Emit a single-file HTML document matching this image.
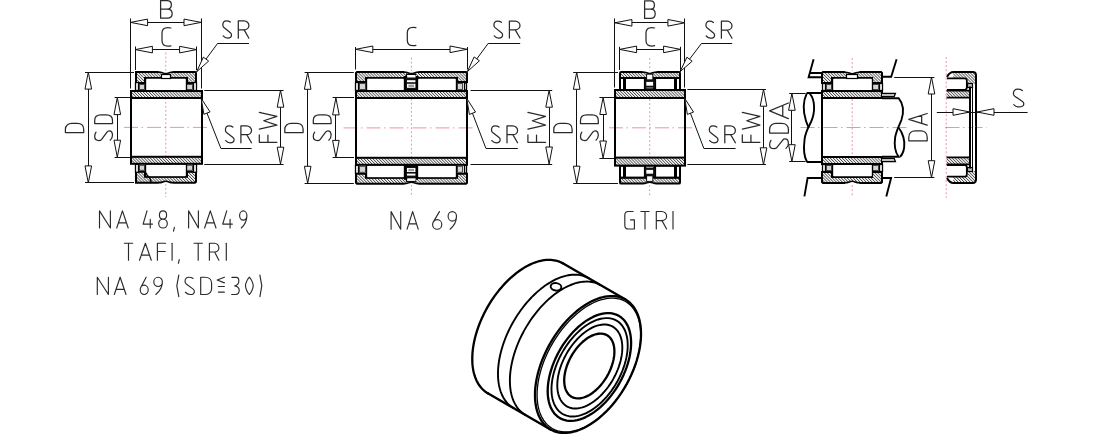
<!DOCTYPE html>
<html><head><meta charset="utf-8"><title>bearing</title>
<style>html,body{margin:0;padding:0;background:#fff;font-family:"Liberation Sans",sans-serif;}svg{display:block}</style>
</head><body>
<svg width="1094" height="434" viewBox="0 0 1094 434">
<defs>
<pattern id="h" width="2.1" height="2.1" patternUnits="userSpaceOnUse" patternTransform="rotate(-45)">
<rect width="2.1" height="2.1" fill="#fff"/><rect width="0.85" height="2.1" fill="#4a4a4a"/>
</pattern>
<pattern id="h2" width="2.1" height="2.1" patternUnits="userSpaceOnUse" patternTransform="rotate(45)">
<rect width="2.1" height="2.1" fill="#fff"/><rect width="0.85" height="2.1" fill="#4a4a4a"/>
</pattern>
</defs>
<rect width="1094" height="434" fill="#fff"/>
<line x1="165.80" y1="52.50" x2="165.80" y2="197.00" stroke="#e23a50" stroke-width="0.9" stroke-opacity="0.6" stroke-dasharray="2 2.1"/>
<line x1="124.00" y1="127.40" x2="208.50" y2="127.40" stroke="#e23a50" stroke-width="0.9" stroke-opacity="0.6" stroke-dasharray="14 3.5 1.5 4"/>
<path d="M136.00,72.00 L195.00,72.00 L196.00,73.00 L196.00,83.00 L187.00,83.00 L187.00,78.00 L145.00,78.00 L145.00,83.00 L136.00,83.00 L136.00,73.00 Z" stroke="#000" stroke-width="2" fill="url(#h)" stroke-linejoin="miter"/>
<rect x="135.50" y="82.50" width="3.00" height="8.00" rx="0" stroke="#000" stroke-width="1.3" fill="#fff"/>
<rect x="193.50" y="82.50" width="3.00" height="8.00" rx="0" stroke="#000" stroke-width="1.3" fill="#fff"/>
<rect x="139.50" y="84.50" width="5.00" height="5.00" rx="0" stroke="#333" stroke-width="0.9" fill="#d4d4d4"/>
<rect x="186.50" y="84.50" width="6.00" height="5.00" rx="0" stroke="#333" stroke-width="0.9" fill="#d4d4d4"/>
<rect x="145.5" y="78.0" width="41.0" height="13.0" rx="1.4" fill="#fff" stroke="#000" stroke-width="1.35"/>
<path d="M158.80,70.80 L172.80,70.80 L172.80,72.00 C168.80,72.00 168.80,73.50 165.80,73.50 C162.80,73.50 162.80,72.00 158.80,72.00 Z" stroke="none" stroke-width="0" fill="#fff" />
<path d="M158.60,72.00 C162.80,72.00 162.80,73.50 165.80,73.50 C168.80,73.50 168.80,72.00 173.00,72.00" stroke="#000" stroke-width="1.5" fill="none" />
<rect x="161.50" y="74.50" width="9.00" height="4.00" rx="0" stroke="#000" stroke-width="1.2" fill="#fff"/>
<rect x="131.00" y="91.00" width="71.00" height="7.00" rx="0" stroke="#000" stroke-width="2" fill="url(#h)"/>
<g transform="translate(0,254.80) scale(1,-1)">
<path d="M136.00,72.00 L195.00,72.00 L196.00,73.00 L196.00,83.00 L187.00,83.00 L187.00,78.00 L145.00,78.00 L145.00,83.00 L136.00,83.00 L136.00,73.00 Z" stroke="#000" stroke-width="2" fill="url(#h2)" stroke-linejoin="miter"/>
<rect x="135.50" y="82.50" width="3.00" height="8.00" rx="0" stroke="#000" stroke-width="1.3" fill="#fff"/>
<rect x="193.50" y="82.50" width="3.00" height="8.00" rx="0" stroke="#000" stroke-width="1.3" fill="#fff"/>
<rect x="139.50" y="84.50" width="5.00" height="5.00" rx="0" stroke="#333" stroke-width="0.9" fill="#d4d4d4"/>
<rect x="186.50" y="84.50" width="6.00" height="5.00" rx="0" stroke="#333" stroke-width="0.9" fill="#d4d4d4"/>
<rect x="145.5" y="78.0" width="41.0" height="13.0" rx="1.4" fill="#fff" stroke="#000" stroke-width="1.35"/>
<path d="M158.80,70.80 L172.80,70.80 L172.80,72.00 C168.80,72.00 168.80,73.50 165.80,73.50 C162.80,73.50 162.80,72.00 158.80,72.00 Z" stroke="none" stroke-width="0" fill="#fff" />
<path d="M158.60,72.00 C162.80,72.00 162.80,73.50 165.80,73.50 C168.80,73.50 168.80,72.00 173.00,72.00" stroke="#000" stroke-width="1.5" fill="none" />
<rect x="131.00" y="91.00" width="71.00" height="7.00" rx="0" stroke="#000" stroke-width="2" fill="url(#h2)"/>
</g>
<path d="M146.2,172.8 C146.4,175.6 148.6,176.4 149.6,177.8 C150.6,179.2 150.6,180.4 151.2,182.0" stroke="#000" stroke-width="1.4" fill="none" />
<line x1="131.00" y1="97.70" x2="131.00" y2="157.10" stroke="#000" stroke-width="2" />
<line x1="202.00" y1="97.70" x2="202.00" y2="157.10" stroke="#000" stroke-width="2" />
<line x1="130.50" y1="18.50" x2="130.50" y2="88.50" stroke="#111" stroke-width="1" />
<line x1="201.50" y1="18.50" x2="201.50" y2="88.50" stroke="#111" stroke-width="1" />
<line x1="147.60" y1="22.50" x2="184.00" y2="22.50" stroke="#111" stroke-width="1" />
<path d="M130.60,22.40 L147.60,19.10 L147.60,25.70 Z" stroke="#111" stroke-width="1" fill="#fff" stroke-linejoin="miter"/>
<path d="M201.00,22.40 L184.00,25.70 L184.00,19.10 Z" stroke="#111" stroke-width="1" fill="#fff" stroke-linejoin="miter"/>
<line x1="135.50" y1="46.50" x2="135.50" y2="70.00" stroke="#111" stroke-width="1" />
<line x1="196.50" y1="46.50" x2="196.50" y2="70.00" stroke="#111" stroke-width="1" />
<line x1="152.40" y1="49.50" x2="179.60" y2="49.50" stroke="#111" stroke-width="1" />
<path d="M135.40,49.60 L152.40,46.30 L152.40,52.90 Z" stroke="#111" stroke-width="1" fill="#fff" stroke-linejoin="miter"/>
<path d="M196.60,49.60 L179.60,52.90 L179.60,46.30 Z" stroke="#111" stroke-width="1" fill="#fff" stroke-linejoin="miter"/>
<path transform="translate(160.60,0.60) rotate(0) scale(2.0714,1.7600)" d="M0,0 V10 H3.2 C4.7,10 5.6,8.9 5.6,7.4 C5.6,5.9 4.7,4.8 3.2,4.8 H0 M3.2,4.8 C4.5,4.8 5.2,3.8 5.2,2.4 C5.2,1 4.5,0 3.2,0 H0" fill="none" stroke="#2a2a2a" stroke-width="1.25" vector-effect="non-scaling-stroke" stroke-linecap="round" stroke-linejoin="round"/>
<path transform="translate(162.00,27.60) rotate(0) scale(1.9348,1.8600)" d="M4.6,0.2 C4.2,0.05 3.6,0 3,0 C1,0 0,1.2 0,3 V7 C0,8.8 1,10 3,10 C3.6,10 4.2,9.95 4.6,9.8" fill="none" stroke="#2a2a2a" stroke-width="1.25" vector-effect="non-scaling-stroke" stroke-linecap="round" stroke-linejoin="round"/>
<line x1="217.80" y1="43.50" x2="249.00" y2="43.50" stroke="#111" stroke-width="1" />
<line x1="217.80" y1="43.20" x2="196.60" y2="71.80" stroke="#111" stroke-width="1" />
<path d="M196.60,71.80 L203.36,57.14 L208.66,61.07 Z" stroke="#111" stroke-width="1" fill="#fff" stroke-linejoin="miter"/>
<path transform="translate(222.50,20.80) rotate(0) scale(1.6071,1.7400)" d="M4.85,0.75 C4.2,0.25 3.3,0 2.4,0 C1,0 0.2,1 0.2,2.4 C0.2,3 0.4,3.5 0.9,3.9 L4.9,6.9 C5.4,7.3 5.6,7.7 5.6,8.2 C5.6,9.3 4.5,10 3.1,10 C2,10 1.1,9.5 0.4,8.7" fill="none" stroke="#2a2a2a" stroke-width="1.25" vector-effect="non-scaling-stroke" stroke-linecap="round" stroke-linejoin="round"/>
<path transform="translate(238.30,20.80) rotate(0) scale(1.7667,1.7400)" d="M0,10 V0 H3.2 C4.8,0 6,1.3 6,2.7 C6,4.1 4.8,5.2 3.2,5.2 H0 M3.3,5.2 L6,10" fill="none" stroke="#2a2a2a" stroke-width="1.25" vector-effect="non-scaling-stroke" stroke-linecap="round" stroke-linejoin="round"/>
<line x1="220.80" y1="148.50" x2="251.60" y2="148.50" stroke="#111" stroke-width="1" />
<line x1="220.80" y1="148.30" x2="201.20" y2="98.40" stroke="#111" stroke-width="1" />
<path d="M201.20,98.40 L210.05,111.90 L203.90,114.31 Z" stroke="#111" stroke-width="1" fill="#fff" stroke-linejoin="miter"/>
<path transform="translate(225.10,125.80) rotate(0) scale(1.6071,1.7000)" d="M4.85,0.75 C4.2,0.25 3.3,0 2.4,0 C1,0 0.2,1 0.2,2.4 C0.2,3 0.4,3.5 0.9,3.9 L4.9,6.9 C5.4,7.3 5.6,7.7 5.6,8.2 C5.6,9.3 4.5,10 3.1,10 C2,10 1.1,9.5 0.4,8.7" fill="none" stroke="#2a2a2a" stroke-width="1.25" vector-effect="non-scaling-stroke" stroke-linecap="round" stroke-linejoin="round"/>
<path transform="translate(240.90,125.80) rotate(0) scale(1.7667,1.7000)" d="M0,10 V0 H3.2 C4.8,0 6,1.3 6,2.7 C6,4.1 4.8,5.2 3.2,5.2 H0 M3.3,5.2 L6,10" fill="none" stroke="#2a2a2a" stroke-width="1.25" vector-effect="non-scaling-stroke" stroke-linecap="round" stroke-linejoin="round"/>
<line x1="85.00" y1="72.50" x2="134.00" y2="72.50" stroke="#111" stroke-width="1" />
<line x1="85.00" y1="182.50" x2="134.00" y2="182.50" stroke="#111" stroke-width="1" />
<line x1="88.50" y1="89.10" x2="88.50" y2="165.90" stroke="#111" stroke-width="1" />
<path d="M88.30,72.10 L91.60,89.10 L85.00,89.10 Z" stroke="#111" stroke-width="1" fill="#fff" stroke-linejoin="miter"/>
<path d="M88.30,182.90 L85.00,165.90 L91.60,165.90 Z" stroke="#111" stroke-width="1" fill="#fff" stroke-linejoin="miter"/>
<path transform="translate(65.40,132.60) rotate(-90) scale(1.6429,1.8300)" d="M0,0 V10 H2 C4.3,10 5.6,8.5 5.6,6.5 V3.5 C5.6,1.5 4.3,0 2,0 Z" fill="none" stroke="#2a2a2a" stroke-width="1.25" vector-effect="non-scaling-stroke" stroke-linecap="round" stroke-linejoin="round"/>
<line x1="114.60" y1="97.50" x2="130.00" y2="97.50" stroke="#111" stroke-width="1" />
<line x1="114.60" y1="157.50" x2="130.00" y2="157.50" stroke="#111" stroke-width="1" />
<line x1="117.50" y1="114.60" x2="117.50" y2="140.20" stroke="#111" stroke-width="1" />
<path d="M117.30,97.60 L120.60,114.60 L114.00,114.60 Z" stroke="#111" stroke-width="1" fill="#fff" stroke-linejoin="miter"/>
<path d="M117.30,157.20 L114.00,140.20 L120.60,140.20 Z" stroke="#111" stroke-width="1" fill="#fff" stroke-linejoin="miter"/>
<path transform="translate(94.70,140.90) rotate(-90) scale(1.8036,1.7800)" d="M4.85,0.75 C4.2,0.25 3.3,0 2.4,0 C1,0 0.2,1 0.2,2.4 C0.2,3 0.4,3.5 0.9,3.9 L4.9,6.9 C5.4,7.3 5.6,7.7 5.6,8.2 C5.6,9.3 4.5,10 3.1,10 C2,10 1.1,9.5 0.4,8.7" fill="none" stroke="#2a2a2a" stroke-width="1.25" vector-effect="non-scaling-stroke" stroke-linecap="round" stroke-linejoin="round"/>
<path transform="translate(94.70,123.60) rotate(-90) scale(1.5714,1.7800)" d="M0,0 V10 H2 C4.3,10 5.6,8.5 5.6,6.5 V3.5 C5.6,1.5 4.3,0 2,0 Z" fill="none" stroke="#2a2a2a" stroke-width="1.25" vector-effect="non-scaling-stroke" stroke-linecap="round" stroke-linejoin="round"/>
<line x1="204.30" y1="90.50" x2="283.60" y2="90.50" stroke="#111" stroke-width="1" />
<line x1="204.30" y1="164.50" x2="283.60" y2="164.50" stroke="#111" stroke-width="1" />
<line x1="280.50" y1="107.20" x2="280.50" y2="147.20" stroke="#111" stroke-width="1" />
<path d="M280.50,90.20 L283.80,107.20 L277.20,107.20 Z" stroke="#111" stroke-width="1" fill="#fff" stroke-linejoin="miter"/>
<path d="M280.50,164.20 L277.20,147.20 L283.80,147.20 Z" stroke="#111" stroke-width="1" fill="#fff" stroke-linejoin="miter"/>
<path transform="translate(259.30,142.30) rotate(-90) scale(1.5000,1.7600)" d="M0,10 V0 H5 M0,4.9 H4.8" fill="none" stroke="#2a2a2a" stroke-width="1.25" vector-effect="non-scaling-stroke" stroke-linecap="round" stroke-linejoin="round"/>
<path transform="translate(259.30,129.10) rotate(-90) scale(1.6700,1.7600)" d="M0,0 L2.4,10 L5,2.5 L7.6,10 L10,0" fill="none" stroke="#2a2a2a" stroke-width="1.25" vector-effect="non-scaling-stroke" stroke-linecap="round" stroke-linejoin="round"/>
<line x1="411.40" y1="57.50" x2="411.40" y2="197.00" stroke="#e23a50" stroke-width="0.9" stroke-opacity="0.6" stroke-dasharray="2 2.1"/>
<line x1="343.50" y1="127.90" x2="473.00" y2="127.90" stroke="#e23a50" stroke-width="0.9" stroke-opacity="0.6" stroke-dasharray="14 3.5 1.5 4"/>
<path d="M357.00,72.00 L466.00,72.00 L467.00,73.00 L467.00,82.00 L457.00,82.00 L457.00,78.00 L366.00,78.00 L366.00,82.00 L356.00,82.00 L356.00,73.00 Z" stroke="#000" stroke-width="2" fill="url(#h)" stroke-linejoin="miter"/>
<rect x="355.50" y="82.50" width="3.00" height="8.00" rx="0" stroke="#000" stroke-width="1.3" fill="#fff"/>
<rect x="464.50" y="82.50" width="2.00" height="8.00" rx="0" stroke="#000" stroke-width="1.3" fill="#fff"/>
<rect x="359.50" y="83.50" width="6.00" height="6.00" rx="0" stroke="#333" stroke-width="0.9" fill="#d4d4d4"/>
<rect x="457.50" y="83.50" width="5.00" height="6.00" rx="0" stroke="#333" stroke-width="0.9" fill="#d4d4d4"/>
<rect x="366.5" y="78.0" width="38.0" height="13.0" rx="1.4" fill="#fff" stroke="#000" stroke-width="1.35"/>
<rect x="417.5" y="78.0" width="39.0" height="13.0" rx="1.4" fill="#fff" stroke="#000" stroke-width="1.35"/>
<path d="M404.40,70.90 L418.40,70.90 L418.40,72.10 C414.40,72.10 414.40,73.60 411.40,73.60 C408.40,73.60 408.40,72.10 404.40,72.10 Z" stroke="none" stroke-width="0" fill="#fff" />
<path d="M404.20,72.10 C408.40,72.10 408.40,73.60 411.40,73.60 C414.40,73.60 414.40,72.10 418.60,72.10" stroke="#000" stroke-width="1.5" fill="none" />
<rect x="406.50" y="74.50" width="9.00" height="4.00" rx="0" stroke="#000" stroke-width="1.2" fill="#fff"/>
<rect x="356.00" y="91.00" width="111.00" height="7.00" rx="0" stroke="#000" stroke-width="2" fill="url(#h)"/>
<rect x="405.00" y="77.00" width="12.00" height="13.00" rx="0" stroke="#000" stroke-width="2" fill="#111"/>
<rect x="407.00" y="80.20" width="8.40" height="2.00" rx="0" stroke="none" stroke-width="0" fill="#fff"/>
<rect x="407.00" y="83.80" width="8.40" height="4.00" rx="0" stroke="none" stroke-width="0" fill="#fff"/>
<rect x="408.40" y="84.60" width="5.60" height="2.40" rx="0" stroke="none" stroke-width="0" fill="#999"/>
<rect x="407.20" y="75.10" width="8.40" height="2.40" rx="0" stroke="none" stroke-width="0" fill="#fff"/>
<g transform="translate(0,255.80) scale(1,-1)">
<path d="M357.00,72.00 L466.00,72.00 L467.00,73.00 L467.00,82.00 L457.00,82.00 L457.00,78.00 L366.00,78.00 L366.00,82.00 L356.00,82.00 L356.00,73.00 Z" stroke="#000" stroke-width="2" fill="url(#h2)" stroke-linejoin="miter"/>
<rect x="355.50" y="82.50" width="3.00" height="8.00" rx="0" stroke="#000" stroke-width="1.3" fill="#fff"/>
<rect x="464.50" y="82.50" width="2.00" height="8.00" rx="0" stroke="#000" stroke-width="1.3" fill="#fff"/>
<rect x="359.50" y="83.50" width="6.00" height="6.00" rx="0" stroke="#333" stroke-width="0.9" fill="#d4d4d4"/>
<rect x="457.50" y="83.50" width="5.00" height="6.00" rx="0" stroke="#333" stroke-width="0.9" fill="#d4d4d4"/>
<rect x="366.5" y="78.0" width="38.0" height="13.0" rx="1.4" fill="#fff" stroke="#000" stroke-width="1.35"/>
<rect x="417.5" y="78.0" width="39.0" height="13.0" rx="1.4" fill="#fff" stroke="#000" stroke-width="1.35"/>
<path d="M404.40,70.90 L418.40,70.90 L418.40,72.10 C414.40,72.10 414.40,73.60 411.40,73.60 C408.40,73.60 408.40,72.10 404.40,72.10 Z" stroke="none" stroke-width="0" fill="#fff" />
<path d="M404.20,72.10 C408.40,72.10 408.40,73.60 411.40,73.60 C414.40,73.60 414.40,72.10 418.60,72.10" stroke="#000" stroke-width="1.5" fill="none" />
<rect x="406.50" y="74.50" width="9.00" height="4.00" rx="0" stroke="#000" stroke-width="1.2" fill="#fff"/>
<rect x="356.00" y="91.00" width="111.00" height="7.00" rx="0" stroke="#000" stroke-width="2" fill="url(#h2)"/>
<rect x="405.00" y="77.00" width="12.00" height="13.00" rx="0" stroke="#000" stroke-width="2" fill="#111"/>
<rect x="407.00" y="80.20" width="8.40" height="2.00" rx="0" stroke="none" stroke-width="0" fill="#fff"/>
<rect x="407.00" y="83.80" width="8.40" height="4.00" rx="0" stroke="none" stroke-width="0" fill="#fff"/>
<rect x="408.40" y="84.60" width="5.60" height="2.40" rx="0" stroke="none" stroke-width="0" fill="#999"/>
<rect x="407.20" y="75.10" width="8.40" height="2.40" rx="0" stroke="none" stroke-width="0" fill="#fff"/>
</g>
<line x1="356.00" y1="98.00" x2="356.00" y2="157.80" stroke="#000" stroke-width="2" />
<line x1="467.00" y1="98.00" x2="467.00" y2="157.80" stroke="#000" stroke-width="2" />
<line x1="355.50" y1="47.00" x2="355.50" y2="69.50" stroke="#111" stroke-width="1" />
<line x1="467.50" y1="47.00" x2="467.50" y2="69.50" stroke="#111" stroke-width="1" />
<line x1="372.80" y1="49.50" x2="450.00" y2="49.50" stroke="#111" stroke-width="1" />
<path d="M355.80,49.30 L372.80,46.00 L372.80,52.60 Z" stroke="#111" stroke-width="1" fill="#fff" stroke-linejoin="miter"/>
<path d="M467.00,49.30 L450.00,52.60 L450.00,46.00 Z" stroke="#111" stroke-width="1" fill="#fff" stroke-linejoin="miter"/>
<path transform="translate(407.30,27.30) rotate(0) scale(1.8696,1.8400)" d="M4.6,0.2 C4.2,0.05 3.6,0 3,0 C1,0 0,1.2 0,3 V7 C0,8.8 1,10 3,10 C3.6,10 4.2,9.95 4.6,9.8" fill="none" stroke="#2a2a2a" stroke-width="1.25" vector-effect="non-scaling-stroke" stroke-linecap="round" stroke-linejoin="round"/>
<line x1="488.20" y1="43.50" x2="520.20" y2="43.50" stroke="#111" stroke-width="1" />
<line x1="488.20" y1="43.40" x2="467.40" y2="71.60" stroke="#111" stroke-width="1" />
<path d="M467.40,71.60 L474.12,56.93 L479.43,60.84 Z" stroke="#111" stroke-width="1" fill="#fff" stroke-linejoin="miter"/>
<path transform="translate(493.60,21.00) rotate(0) scale(1.6071,1.7000)" d="M4.85,0.75 C4.2,0.25 3.3,0 2.4,0 C1,0 0.2,1 0.2,2.4 C0.2,3 0.4,3.5 0.9,3.9 L4.9,6.9 C5.4,7.3 5.6,7.7 5.6,8.2 C5.6,9.3 4.5,10 3.1,10 C2,10 1.1,9.5 0.4,8.7" fill="none" stroke="#2a2a2a" stroke-width="1.25" vector-effect="non-scaling-stroke" stroke-linecap="round" stroke-linejoin="round"/>
<path transform="translate(509.40,21.00) rotate(0) scale(1.7667,1.7000)" d="M0,10 V0 H3.2 C4.8,0 6,1.3 6,2.7 C6,4.1 4.8,5.2 3.2,5.2 H0 M3.3,5.2 L6,10" fill="none" stroke="#2a2a2a" stroke-width="1.25" vector-effect="non-scaling-stroke" stroke-linecap="round" stroke-linejoin="round"/>
<line x1="485.90" y1="148.50" x2="517.80" y2="148.50" stroke="#111" stroke-width="1" />
<line x1="485.90" y1="148.30" x2="466.80" y2="98.50" stroke="#111" stroke-width="1" />
<path d="M466.80,98.50 L475.54,112.07 L469.38,114.43 Z" stroke="#111" stroke-width="1" fill="#fff" stroke-linejoin="miter"/>
<path transform="translate(491.20,125.80) rotate(0) scale(1.6071,1.7000)" d="M4.85,0.75 C4.2,0.25 3.3,0 2.4,0 C1,0 0.2,1 0.2,2.4 C0.2,3 0.4,3.5 0.9,3.9 L4.9,6.9 C5.4,7.3 5.6,7.7 5.6,8.2 C5.6,9.3 4.5,10 3.1,10 C2,10 1.1,9.5 0.4,8.7" fill="none" stroke="#2a2a2a" stroke-width="1.25" vector-effect="non-scaling-stroke" stroke-linecap="round" stroke-linejoin="round"/>
<path transform="translate(507.00,125.80) rotate(0) scale(1.7667,1.7000)" d="M0,10 V0 H3.2 C4.8,0 6,1.3 6,2.7 C6,4.1 4.8,5.2 3.2,5.2 H0 M3.3,5.2 L6,10" fill="none" stroke="#2a2a2a" stroke-width="1.25" vector-effect="non-scaling-stroke" stroke-linecap="round" stroke-linejoin="round"/>
<line x1="304.60" y1="72.50" x2="353.80" y2="72.50" stroke="#111" stroke-width="1" />
<line x1="304.60" y1="183.50" x2="353.80" y2="183.50" stroke="#111" stroke-width="1" />
<line x1="307.50" y1="89.30" x2="307.50" y2="166.30" stroke="#111" stroke-width="1" />
<path d="M307.70,72.30 L311.00,89.30 L304.40,89.30 Z" stroke="#111" stroke-width="1" fill="#fff" stroke-linejoin="miter"/>
<path d="M307.70,183.30 L304.40,166.30 L311.00,166.30 Z" stroke="#111" stroke-width="1" fill="#fff" stroke-linejoin="miter"/>
<path transform="translate(284.80,132.60) rotate(-90) scale(1.6429,1.8300)" d="M0,0 V10 H2 C4.3,10 5.6,8.5 5.6,6.5 V3.5 C5.6,1.5 4.3,0 2,0 Z" fill="none" stroke="#2a2a2a" stroke-width="1.25" vector-effect="non-scaling-stroke" stroke-linecap="round" stroke-linejoin="round"/>
<line x1="332.60" y1="97.50" x2="354.00" y2="97.50" stroke="#111" stroke-width="1" />
<line x1="332.60" y1="157.50" x2="354.00" y2="157.50" stroke="#111" stroke-width="1" />
<line x1="335.50" y1="114.90" x2="335.50" y2="140.40" stroke="#111" stroke-width="1" />
<path d="M335.90,97.90 L339.20,114.90 L332.60,114.90 Z" stroke="#111" stroke-width="1" fill="#fff" stroke-linejoin="miter"/>
<path d="M335.90,157.40 L332.60,140.40 L339.20,140.40 Z" stroke="#111" stroke-width="1" fill="#fff" stroke-linejoin="miter"/>
<path transform="translate(313.30,140.90) rotate(-90) scale(1.8036,1.7800)" d="M4.85,0.75 C4.2,0.25 3.3,0 2.4,0 C1,0 0.2,1 0.2,2.4 C0.2,3 0.4,3.5 0.9,3.9 L4.9,6.9 C5.4,7.3 5.6,7.7 5.6,8.2 C5.6,9.3 4.5,10 3.1,10 C2,10 1.1,9.5 0.4,8.7" fill="none" stroke="#2a2a2a" stroke-width="1.25" vector-effect="non-scaling-stroke" stroke-linecap="round" stroke-linejoin="round"/>
<path transform="translate(313.30,123.60) rotate(-90) scale(1.5714,1.7800)" d="M0,0 V10 H2 C4.3,10 5.6,8.5 5.6,6.5 V3.5 C5.6,1.5 4.3,0 2,0 Z" fill="none" stroke="#2a2a2a" stroke-width="1.25" vector-effect="non-scaling-stroke" stroke-linecap="round" stroke-linejoin="round"/>
<line x1="470.60" y1="90.50" x2="552.20" y2="90.50" stroke="#111" stroke-width="1" />
<line x1="470.60" y1="164.50" x2="552.20" y2="164.50" stroke="#111" stroke-width="1" />
<line x1="549.50" y1="107.20" x2="549.50" y2="147.00" stroke="#111" stroke-width="1" />
<path d="M549.10,90.20 L552.40,107.20 L545.80,107.20 Z" stroke="#111" stroke-width="1" fill="#fff" stroke-linejoin="miter"/>
<path d="M549.10,164.00 L545.80,147.00 L552.40,147.00 Z" stroke="#111" stroke-width="1" fill="#fff" stroke-linejoin="miter"/>
<path transform="translate(527.90,142.30) rotate(-90) scale(1.5000,1.7600)" d="M0,10 V0 H5 M0,4.9 H4.8" fill="none" stroke="#2a2a2a" stroke-width="1.25" vector-effect="non-scaling-stroke" stroke-linecap="round" stroke-linejoin="round"/>
<path transform="translate(527.90,129.10) rotate(-90) scale(1.6700,1.7600)" d="M0,0 L2.4,10 L5,2.5 L7.6,10 L10,0" fill="none" stroke="#2a2a2a" stroke-width="1.25" vector-effect="non-scaling-stroke" stroke-linecap="round" stroke-linejoin="round"/>
<line x1="649.70" y1="58.00" x2="649.70" y2="197.00" stroke="#e23a50" stroke-width="0.9" stroke-opacity="0.6" stroke-dasharray="2 2.1"/>
<line x1="609.00" y1="127.80" x2="692.00" y2="127.80" stroke="#e23a50" stroke-width="0.9" stroke-opacity="0.6" stroke-dasharray="14 3.5 1.5 4"/>
<rect x="620.00" y="72.00" width="60.00" height="6.00" rx="1.2" stroke="#000" stroke-width="2" fill="url(#h)"/>
<rect x="620.00" y="78.00" width="4.00" height="12.00" rx="0" stroke="#000" stroke-width="2" fill="#fff"/>
<rect x="676.00" y="78.00" width="4.00" height="12.00" rx="0" stroke="#000" stroke-width="2" fill="#fff"/>
<rect x="625.00" y="78.00" width="20.00" height="12.00" rx="0" stroke="#000" stroke-width="2" fill="#fff"/>
<rect x="655.00" y="78.00" width="20.00" height="12.00" rx="0" stroke="#000" stroke-width="2" fill="#fff"/>
<rect x="644.50" y="78.50" width="11.00" height="10.00" rx="0" stroke="#000" stroke-width="1.2" fill="#111"/>
<path d="M642.70,70.70 L656.70,70.70 L656.70,71.90 C652.70,71.90 652.70,73.40 649.70,73.40 C646.70,73.40 646.70,71.90 642.70,71.90 Z" stroke="none" stroke-width="0" fill="#fff" />
<path d="M642.50,71.90 C646.70,71.90 646.70,73.40 649.70,73.40 C652.70,73.40 652.70,71.90 656.90,71.90" stroke="#000" stroke-width="1.5" fill="none" />
<rect x="646.10" y="73.70" width="7.20" height="5.30" rx="0" stroke="none" stroke-width="0" fill="#111"/>
<rect x="647.10" y="74.70" width="5.20" height="4.60" rx="0" stroke="none" stroke-width="0" fill="#fff"/>
<rect x="646.30" y="81.90" width="6.80" height="3.80" rx="0" stroke="none" stroke-width="0" fill="#fff"/>
<rect x="646.30" y="87.60" width="6.80" height="0.70" rx="0" stroke="none" stroke-width="0" fill="#ddd"/>
<rect x="615.00" y="90.00" width="70.00" height="8.00" rx="0" stroke="#000" stroke-width="2" fill="url(#h)"/>
<g transform="translate(0,255.60) scale(1,-1)">
<rect x="620.00" y="72.00" width="60.00" height="6.00" rx="1.2" stroke="#000" stroke-width="2" fill="url(#h2)"/>
<rect x="620.00" y="78.00" width="4.00" height="12.00" rx="0" stroke="#000" stroke-width="2" fill="#fff"/>
<rect x="676.00" y="78.00" width="4.00" height="12.00" rx="0" stroke="#000" stroke-width="2" fill="#fff"/>
<rect x="625.00" y="78.00" width="20.00" height="12.00" rx="0" stroke="#000" stroke-width="2" fill="#fff"/>
<rect x="655.00" y="78.00" width="20.00" height="12.00" rx="0" stroke="#000" stroke-width="2" fill="#fff"/>
<rect x="644.50" y="78.50" width="11.00" height="10.00" rx="0" stroke="#000" stroke-width="1.2" fill="#111"/>
<path d="M642.70,70.70 L656.70,70.70 L656.70,71.90 C652.70,71.90 652.70,73.40 649.70,73.40 C646.70,73.40 646.70,71.90 642.70,71.90 Z" stroke="none" stroke-width="0" fill="#fff" />
<path d="M642.50,71.90 C646.70,71.90 646.70,73.40 649.70,73.40 C652.70,73.40 652.70,71.90 656.90,71.90" stroke="#000" stroke-width="1.5" fill="none" />
<rect x="646.10" y="73.70" width="7.20" height="5.30" rx="0" stroke="none" stroke-width="0" fill="#111"/>
<rect x="647.10" y="74.70" width="5.20" height="4.60" rx="0" stroke="none" stroke-width="0" fill="#fff"/>
<rect x="646.30" y="81.90" width="6.80" height="3.80" rx="0" stroke="none" stroke-width="0" fill="#fff"/>
<rect x="646.30" y="87.60" width="6.80" height="0.70" rx="0" stroke="none" stroke-width="0" fill="#ddd"/>
<rect x="615.00" y="90.00" width="70.00" height="8.00" rx="0" stroke="#000" stroke-width="2" fill="url(#h2)"/>
</g>
<line x1="615.00" y1="97.50" x2="615.00" y2="158.10" stroke="#000" stroke-width="2" />
<line x1="685.00" y1="97.50" x2="685.00" y2="158.10" stroke="#000" stroke-width="2" />
<line x1="614.50" y1="18.50" x2="614.50" y2="87.50" stroke="#111" stroke-width="1" />
<line x1="684.50" y1="18.50" x2="684.50" y2="87.50" stroke="#111" stroke-width="1" />
<line x1="631.90" y1="22.50" x2="667.90" y2="22.50" stroke="#111" stroke-width="1" />
<path d="M614.90,22.80 L631.90,19.50 L631.90,26.10 Z" stroke="#111" stroke-width="1" fill="#fff" stroke-linejoin="miter"/>
<path d="M684.90,22.80 L667.90,26.10 L667.90,19.50 Z" stroke="#111" stroke-width="1" fill="#fff" stroke-linejoin="miter"/>
<line x1="619.50" y1="46.80" x2="619.50" y2="70.00" stroke="#111" stroke-width="1" />
<line x1="680.50" y1="46.80" x2="680.50" y2="70.00" stroke="#111" stroke-width="1" />
<line x1="636.60" y1="49.50" x2="663.60" y2="49.50" stroke="#111" stroke-width="1" />
<path d="M619.60,49.40 L636.60,46.10 L636.60,52.70 Z" stroke="#111" stroke-width="1" fill="#fff" stroke-linejoin="miter"/>
<path d="M680.60,49.40 L663.60,52.70 L663.60,46.10 Z" stroke="#111" stroke-width="1" fill="#fff" stroke-linejoin="miter"/>
<path transform="translate(644.60,0.80) rotate(0) scale(1.8929,1.7600)" d="M0,0 V10 H3.2 C4.7,10 5.6,8.9 5.6,7.4 C5.6,5.9 4.7,4.8 3.2,4.8 H0 M3.2,4.8 C4.5,4.8 5.2,3.8 5.2,2.4 C5.2,1 4.5,0 3.2,0 H0" fill="none" stroke="#2a2a2a" stroke-width="1.25" vector-effect="non-scaling-stroke" stroke-linecap="round" stroke-linejoin="round"/>
<path transform="translate(646.00,27.60) rotate(0) scale(1.8696,1.8400)" d="M4.6,0.2 C4.2,0.05 3.6,0 3,0 C1,0 0,1.2 0,3 V7 C0,8.8 1,10 3,10 C3.6,10 4.2,9.95 4.6,9.8" fill="none" stroke="#2a2a2a" stroke-width="1.25" vector-effect="non-scaling-stroke" stroke-linecap="round" stroke-linejoin="round"/>
<line x1="701.60" y1="43.50" x2="732.20" y2="43.50" stroke="#111" stroke-width="1" />
<line x1="701.60" y1="43.30" x2="680.00" y2="71.80" stroke="#111" stroke-width="1" />
<path d="M680.00,71.80 L686.91,57.21 L692.17,61.20 Z" stroke="#111" stroke-width="1" fill="#fff" stroke-linejoin="miter"/>
<path transform="translate(705.60,21.20) rotate(0) scale(1.6071,1.7000)" d="M4.85,0.75 C4.2,0.25 3.3,0 2.4,0 C1,0 0.2,1 0.2,2.4 C0.2,3 0.4,3.5 0.9,3.9 L4.9,6.9 C5.4,7.3 5.6,7.7 5.6,8.2 C5.6,9.3 4.5,10 3.1,10 C2,10 1.1,9.5 0.4,8.7" fill="none" stroke="#2a2a2a" stroke-width="1.25" vector-effect="non-scaling-stroke" stroke-linecap="round" stroke-linejoin="round"/>
<path transform="translate(721.40,21.20) rotate(0) scale(1.7667,1.7000)" d="M0,10 V0 H3.2 C4.8,0 6,1.3 6,2.7 C6,4.1 4.8,5.2 3.2,5.2 H0 M3.3,5.2 L6,10" fill="none" stroke="#2a2a2a" stroke-width="1.25" vector-effect="non-scaling-stroke" stroke-linecap="round" stroke-linejoin="round"/>
<line x1="573.20" y1="72.50" x2="618.00" y2="72.50" stroke="#111" stroke-width="1" />
<line x1="573.20" y1="183.50" x2="618.00" y2="183.50" stroke="#111" stroke-width="1" />
<line x1="576.50" y1="89.30" x2="576.50" y2="166.20" stroke="#111" stroke-width="1" />
<path d="M576.70,72.30 L580.00,89.30 L573.40,89.30 Z" stroke="#111" stroke-width="1" fill="#fff" stroke-linejoin="miter"/>
<path d="M576.70,183.20 L573.40,166.20 L580.00,166.20 Z" stroke="#111" stroke-width="1" fill="#fff" stroke-linejoin="miter"/>
<path transform="translate(553.80,132.60) rotate(-90) scale(1.6429,1.8300)" d="M0,0 V10 H2 C4.3,10 5.6,8.5 5.6,6.5 V3.5 C5.6,1.5 4.3,0 2,0 Z" fill="none" stroke="#2a2a2a" stroke-width="1.25" vector-effect="non-scaling-stroke" stroke-linecap="round" stroke-linejoin="round"/>
<line x1="599.40" y1="97.50" x2="614.00" y2="97.50" stroke="#111" stroke-width="1" />
<line x1="599.40" y1="158.50" x2="614.00" y2="158.50" stroke="#111" stroke-width="1" />
<line x1="603.50" y1="114.50" x2="603.50" y2="141.00" stroke="#111" stroke-width="1" />
<path d="M603.10,97.50 L606.40,114.50 L599.80,114.50 Z" stroke="#111" stroke-width="1" fill="#fff" stroke-linejoin="miter"/>
<path d="M603.10,158.00 L599.80,141.00 L606.40,141.00 Z" stroke="#111" stroke-width="1" fill="#fff" stroke-linejoin="miter"/>
<path transform="translate(580.50,140.90) rotate(-90) scale(1.8036,1.7800)" d="M4.85,0.75 C4.2,0.25 3.3,0 2.4,0 C1,0 0.2,1 0.2,2.4 C0.2,3 0.4,3.5 0.9,3.9 L4.9,6.9 C5.4,7.3 5.6,7.7 5.6,8.2 C5.6,9.3 4.5,10 3.1,10 C2,10 1.1,9.5 0.4,8.7" fill="none" stroke="#2a2a2a" stroke-width="1.25" vector-effect="non-scaling-stroke" stroke-linecap="round" stroke-linejoin="round"/>
<path transform="translate(580.50,123.60) rotate(-90) scale(1.5714,1.7800)" d="M0,0 V10 H2 C4.3,10 5.6,8.5 5.6,6.5 V3.5 C5.6,1.5 4.3,0 2,0 Z" fill="none" stroke="#2a2a2a" stroke-width="1.25" vector-effect="non-scaling-stroke" stroke-linecap="round" stroke-linejoin="round"/>
<line x1="703.80" y1="148.50" x2="735.60" y2="148.50" stroke="#111" stroke-width="1" />
<line x1="703.80" y1="148.30" x2="684.80" y2="98.50" stroke="#111" stroke-width="1" />
<path d="M684.80,98.50 L693.52,112.09 L687.35,114.44 Z" stroke="#111" stroke-width="1" fill="#fff" stroke-linejoin="miter"/>
<path transform="translate(709.00,125.80) rotate(0) scale(1.6071,1.7000)" d="M4.85,0.75 C4.2,0.25 3.3,0 2.4,0 C1,0 0.2,1 0.2,2.4 C0.2,3 0.4,3.5 0.9,3.9 L4.9,6.9 C5.4,7.3 5.6,7.7 5.6,8.2 C5.6,9.3 4.5,10 3.1,10 C2,10 1.1,9.5 0.4,8.7" fill="none" stroke="#2a2a2a" stroke-width="1.25" vector-effect="non-scaling-stroke" stroke-linecap="round" stroke-linejoin="round"/>
<path transform="translate(724.80,125.80) rotate(0) scale(1.7667,1.7000)" d="M0,10 V0 H3.2 C4.8,0 6,1.3 6,2.7 C6,4.1 4.8,5.2 3.2,5.2 H0 M3.3,5.2 L6,10" fill="none" stroke="#2a2a2a" stroke-width="1.25" vector-effect="non-scaling-stroke" stroke-linecap="round" stroke-linejoin="round"/>
<line x1="687.40" y1="89.50" x2="766.00" y2="89.50" stroke="#111" stroke-width="1" />
<line x1="687.40" y1="164.50" x2="766.00" y2="164.50" stroke="#111" stroke-width="1" />
<line x1="763.50" y1="106.20" x2="763.50" y2="147.80" stroke="#111" stroke-width="1" />
<path d="M763.50,89.20 L766.80,106.20 L760.20,106.20 Z" stroke="#111" stroke-width="1" fill="#fff" stroke-linejoin="miter"/>
<path d="M763.50,164.80 L760.20,147.80 L766.80,147.80 Z" stroke="#111" stroke-width="1" fill="#fff" stroke-linejoin="miter"/>
<path transform="translate(742.30,142.30) rotate(-90) scale(1.5000,1.7600)" d="M0,10 V0 H5 M0,4.9 H4.8" fill="none" stroke="#2a2a2a" stroke-width="1.25" vector-effect="non-scaling-stroke" stroke-linecap="round" stroke-linejoin="round"/>
<path transform="translate(742.30,129.10) rotate(-90) scale(1.6700,1.7600)" d="M0,0 L2.4,10 L5,2.5 L7.6,10 L10,0" fill="none" stroke="#2a2a2a" stroke-width="1.25" vector-effect="non-scaling-stroke" stroke-linecap="round" stroke-linejoin="round"/>
<line x1="852.20" y1="58.00" x2="852.20" y2="197.00" stroke="#e23a50" stroke-width="0.9" stroke-opacity="0.6" stroke-dasharray="2 2.1"/>
<line x1="800.50" y1="127.50" x2="907.00" y2="127.50" stroke="#e23a50" stroke-width="0.9" stroke-opacity="0.6" stroke-dasharray="14 3.5 1.5 4"/>
<path d="M823.00,72.00 L881.00,72.00 L882.00,73.00 L882.00,83.00 L872.00,83.00 L872.00,78.00 L832.00,78.00 L832.00,83.00 L822.00,83.00 L822.00,73.00 Z" stroke="#000" stroke-width="2" fill="url(#h)" stroke-linejoin="miter"/>
<rect x="822.50" y="83.50" width="3.00" height="7.00" rx="0" stroke="#000" stroke-width="1.3" fill="#fff"/>
<rect x="879.50" y="83.50" width="3.00" height="7.00" rx="0" stroke="#000" stroke-width="1.3" fill="#fff"/>
<rect x="826.50" y="84.50" width="5.00" height="5.00" rx="0" stroke="#333" stroke-width="0.9" fill="#d4d4d4"/>
<rect x="872.50" y="84.50" width="6.00" height="5.00" rx="0" stroke="#333" stroke-width="0.9" fill="#d4d4d4"/>
<rect x="832.5" y="78.0" width="40.0" height="13.0" rx="1.4" fill="#fff" stroke="#000" stroke-width="1.35"/>
<path d="M845.20,71.00 L859.20,71.00 L859.20,72.20 C855.20,72.20 855.20,73.70 852.20,73.70 C849.20,73.70 849.20,72.20 845.20,72.20 Z" stroke="none" stroke-width="0" fill="#fff" />
<path d="M845.00,72.20 C849.20,72.20 849.20,73.70 852.20,73.70 C855.20,73.70 855.20,72.20 859.40,72.20" stroke="#000" stroke-width="1.5" fill="none" />
<rect x="846.50" y="74.50" width="11.00" height="4.00" rx="0" stroke="#000" stroke-width="1.2" fill="#fff"/>
<rect x="822.00" y="91.00" width="60.00" height="7.00" rx="0" stroke="#000" stroke-width="2" fill="url(#h)"/>
<g transform="translate(0,255.00) scale(1,-1)">
<path d="M823.00,72.00 L881.00,72.00 L882.00,73.00 L882.00,83.00 L872.00,83.00 L872.00,78.00 L832.00,78.00 L832.00,83.00 L822.00,83.00 L822.00,73.00 Z" stroke="#000" stroke-width="2" fill="url(#h2)" stroke-linejoin="miter"/>
<rect x="822.50" y="83.50" width="3.00" height="7.00" rx="0" stroke="#000" stroke-width="1.3" fill="#fff"/>
<rect x="879.50" y="83.50" width="3.00" height="7.00" rx="0" stroke="#000" stroke-width="1.3" fill="#fff"/>
<rect x="826.50" y="84.50" width="5.00" height="5.00" rx="0" stroke="#333" stroke-width="0.9" fill="#d4d4d4"/>
<rect x="872.50" y="84.50" width="6.00" height="5.00" rx="0" stroke="#333" stroke-width="0.9" fill="#d4d4d4"/>
<rect x="832.5" y="78.0" width="40.0" height="13.0" rx="1.4" fill="#fff" stroke="#000" stroke-width="1.35"/>
<path d="M845.20,71.00 L859.20,71.00 L859.20,72.20 C855.20,72.20 855.20,73.70 852.20,73.70 C849.20,73.70 849.20,72.20 845.20,72.20 Z" stroke="none" stroke-width="0" fill="#fff" />
<path d="M845.00,72.20 C849.20,72.20 849.20,73.70 852.20,73.70 C855.20,73.70 855.20,72.20 859.40,72.20" stroke="#000" stroke-width="1.5" fill="none" />
<rect x="822.00" y="91.00" width="60.00" height="7.00" rx="0" stroke="#000" stroke-width="2" fill="url(#h2)"/>
</g>
<line x1="822.00" y1="90.00" x2="822.00" y2="165.00" stroke="#000" stroke-width="2" />
<line x1="806.60" y1="93.00" x2="822.30" y2="93.00" stroke="#000" stroke-width="2" />
<line x1="806.60" y1="162.00" x2="822.30" y2="162.00" stroke="#000" stroke-width="2" />
<path d="M806.8,93.3 C803.0,101 803.2,112 806.0,121 C807.0,124 808.0,126 808.8,127.5" stroke="#000" stroke-width="1.9" fill="none" />
<path d="M809.6,93.3 C815.5,100 815.2,113 811.0,122 C808.0,128 805.5,132 804.6,139 C803.6,147 804.0,157 807.0,161.7" stroke="#000" stroke-width="1.9" fill="none" />
<path d="M882,98.2 L898.6,98.2 C903.5,104 904.0,112 901.4,120 C899.5,125 896.5,130 895.2,137 C894.0,145 895.0,152 898.6,156.8 L882,156.8" stroke="#000" stroke-width="1.9" fill="none" />
<path d="M898.8,128.0 C903.0,133 905.0,141 904.2,147 C903.6,152 902.0,155 900.0,156.8" stroke="#000" stroke-width="1.9" fill="none" />
<path d="M882,93.50 L895.4,93.50 L894.2,96.50 L882,96.50" stroke="#000" stroke-width="1.3" fill="#fff" />
<path d="M882,161.50 L895.4,161.50 L894.2,158.50 L882,158.50" stroke="#000" stroke-width="1.3" fill="#fff" />
<path d="M813.6,59.20 L808.6,77.30 L822.3,77.30 M809.8,73.00 L822.3,73.00" stroke="#000" stroke-width="1.9" fill="none" />
<path d="M896.6,59.20 L891.2,76.80 L882.0,76.80" stroke="#000" stroke-width="1.9" fill="none" />
<path d="M804.4,196.4 L807.6,178.0 L822.3,178.0" stroke="#000" stroke-width="1.9" fill="none" />
<path d="M886.3,196.4 L891.1,178.0 L882.0,178.0" stroke="#000" stroke-width="1.9" fill="none" />
<line x1="789.20" y1="93.50" x2="805.50" y2="93.50" stroke="#111" stroke-width="1" />
<line x1="789.20" y1="161.50" x2="805.50" y2="161.50" stroke="#111" stroke-width="1" />
<line x1="791.50" y1="110.30" x2="791.50" y2="144.70" stroke="#111" stroke-width="1" />
<path d="M791.90,93.30 L795.20,110.30 L788.60,110.30 Z" stroke="#111" stroke-width="1" fill="#fff" stroke-linejoin="miter"/>
<path d="M791.90,161.70 L788.60,144.70 L795.20,144.70 Z" stroke="#111" stroke-width="1" fill="#fff" stroke-linejoin="miter"/>
<path transform="translate(769.60,149.10) rotate(-90) scale(1.8036,1.8800)" d="M4.85,0.75 C4.2,0.25 3.3,0 2.4,0 C1,0 0.2,1 0.2,2.4 C0.2,3 0.4,3.5 0.9,3.9 L4.9,6.9 C5.4,7.3 5.6,7.7 5.6,8.2 C5.6,9.3 4.5,10 3.1,10 C2,10 1.1,9.5 0.4,8.7" fill="none" stroke="#2a2a2a" stroke-width="1.25" vector-effect="non-scaling-stroke" stroke-linecap="round" stroke-linejoin="round"/>
<path transform="translate(769.60,133.00) rotate(-90) scale(1.7321,1.8800)" d="M0,0 V10 H2 C4.3,10 5.6,8.5 5.6,6.5 V3.5 C5.6,1.5 4.3,0 2,0 Z" fill="none" stroke="#2a2a2a" stroke-width="1.25" vector-effect="non-scaling-stroke" stroke-linecap="round" stroke-linejoin="round"/>
<path transform="translate(769.60,118.60) rotate(-90) scale(2.2286,1.8800)" d="M0,10 L3.5,0 L7,10 M1.05,7 H5.95" fill="none" stroke="#2a2a2a" stroke-width="1.25" vector-effect="non-scaling-stroke" stroke-linecap="round" stroke-linejoin="round"/>
<line x1="894.20" y1="77.50" x2="934.40" y2="77.50" stroke="#111" stroke-width="1" />
<line x1="894.20" y1="177.50" x2="934.40" y2="177.50" stroke="#111" stroke-width="1" />
<line x1="931.50" y1="94.00" x2="931.50" y2="160.70" stroke="#111" stroke-width="1" />
<path d="M931.50,77.00 L934.80,94.00 L928.20,94.00 Z" stroke="#111" stroke-width="1" fill="#fff" stroke-linejoin="miter"/>
<path d="M931.50,177.70 L928.20,160.70 L934.80,160.70 Z" stroke="#111" stroke-width="1" fill="#fff" stroke-linejoin="miter"/>
<path transform="translate(908.80,140.80) rotate(-90) scale(1.7857,1.8400)" d="M0,0 V10 H2 C4.3,10 5.6,8.5 5.6,6.5 V3.5 C5.6,1.5 4.3,0 2,0 Z" fill="none" stroke="#2a2a2a" stroke-width="1.25" vector-effect="non-scaling-stroke" stroke-linecap="round" stroke-linejoin="round"/>
<path transform="translate(908.80,125.20) rotate(-90) scale(1.6714,1.8400)" d="M0,10 L3.5,0 L7,10 M1.05,7 H5.95" fill="none" stroke="#2a2a2a" stroke-width="1.25" vector-effect="non-scaling-stroke" stroke-linecap="round" stroke-linejoin="round"/>
<line x1="946.20" y1="57.00" x2="946.20" y2="198.00" stroke="#e23a50" stroke-width="0.9" stroke-opacity="0.6" stroke-dasharray="2 2.1"/>
<line x1="945.50" y1="127.50" x2="986.50" y2="127.50" stroke="#e23a50" stroke-width="0.9" stroke-opacity="0.6" stroke-dasharray="14 3.5 1.5 4"/>
<path d="M947.0,77.0 C948.5,74.0 950.5,72.0 953.5,72.0 L972.8,72.0 Q976.0,72.0 976.0,75.2 L976.0,128.5 L973.2,128.5 L973.2,83.0 L966.8,83.0 L966.8,78.2 L953.2,78.2 L953.2,72.0" stroke="none" stroke-width="0" fill="url(#h)" />
<path d="M947.0,77.0 C948.5,74.0 950.5,72.0 953.5,72.0 L972.8,72.0 Q976.0,72.0 976.0,75.2 L976.0,128.5" stroke="#000" stroke-width="1.9" fill="none" />
<rect x="973.00" y="84.00" width="3.00" height="44.50" rx="0" stroke="none" stroke-width="0" fill="#fff"/>
<line x1="976.00" y1="75.00" x2="976.00" y2="128.50" stroke="#000" stroke-width="2" />
<path d="M947.0,78.4 L964.6,78.4 Q966.8,78.4 966.8,80.6 L966.8,87.6 Q966.8,89.8 964.6,89.8 L947.0,89.8" stroke="#000" stroke-width="1.7" fill="#fff" />
<rect x="967.50" y="83.50" width="5.00" height="4.00" rx="0" stroke="#000" stroke-width="1.2" fill="#bbb"/>
<path d="M946.6,90.6 L969.6,90.6 L969.6,97.6 L946.6,97.6" stroke="none" stroke-width="0" fill="url(#h)" />
<path d="M946.6,90.6 L969.6,90.6 M946.6,97.6 L969.6,97.6" stroke="#000" stroke-width="1.8" fill="none" />
<line x1="970.00" y1="86.50" x2="970.00" y2="128.50" stroke="#000" stroke-width="2" />
<line x1="972.50" y1="86.50" x2="972.50" y2="128.50" stroke="#000" stroke-width="1.0" />
<g transform="translate(0,255.00) scale(1,-1)">
<path d="M947.0,77.0 C948.5,74.0 950.5,72.0 953.5,72.0 L972.8,72.0 Q976.0,72.0 976.0,75.2 L976.0,128.5 L973.2,128.5 L973.2,83.0 L966.8,83.0 L966.8,78.2 L953.2,78.2 L953.2,72.0" stroke="none" stroke-width="0" fill="url(#h2)" />
<path d="M947.0,77.0 C948.5,74.0 950.5,72.0 953.5,72.0 L972.8,72.0 Q976.0,72.0 976.0,75.2 L976.0,128.5" stroke="#000" stroke-width="1.9" fill="none" />
<rect x="973.00" y="84.00" width="3.00" height="44.50" rx="0" stroke="none" stroke-width="0" fill="#fff"/>
<line x1="976.00" y1="75.00" x2="976.00" y2="128.50" stroke="#000" stroke-width="2" />
<path d="M947.0,78.4 L964.6,78.4 Q966.8,78.4 966.8,80.6 L966.8,87.6 Q966.8,89.8 964.6,89.8 L947.0,89.8" stroke="#000" stroke-width="1.7" fill="#fff" />
<rect x="967.50" y="83.50" width="5.00" height="4.00" rx="0" stroke="#000" stroke-width="1.2" fill="#bbb"/>
<path d="M946.6,90.6 L969.6,90.6 L969.6,97.6 L946.6,97.6" stroke="none" stroke-width="0" fill="url(#h2)" />
<path d="M946.6,90.6 L969.6,90.6 M946.6,97.6 L969.6,97.6" stroke="#000" stroke-width="1.8" fill="none" />
<line x1="970.00" y1="86.50" x2="970.00" y2="128.50" stroke="#000" stroke-width="2" />
<line x1="972.50" y1="86.50" x2="972.50" y2="128.50" stroke="#000" stroke-width="1.0" />
</g>
<line x1="936.80" y1="112.50" x2="1027.60" y2="112.50" stroke="#111" stroke-width="1" />
<path d="M970.00,112.00 L953.00,115.30 L953.00,108.70 Z" stroke="#111" stroke-width="1" fill="#fff" stroke-linejoin="miter"/>
<path d="M977.00,112.00 L994.00,108.70 L994.00,115.30 Z" stroke="#111" stroke-width="1" fill="#fff" stroke-linejoin="miter"/>
<path transform="translate(1013.00,89.20) rotate(0) scale(1.9286,1.7800)" d="M4.85,0.75 C4.2,0.25 3.3,0 2.4,0 C1,0 0.2,1 0.2,2.4 C0.2,3 0.4,3.5 0.9,3.9 L4.9,6.9 C5.4,7.3 5.6,7.7 5.6,8.2 C5.6,9.3 4.5,10 3.1,10 C2,10 1.1,9.5 0.4,8.7" fill="none" stroke="#2a2a2a" stroke-width="1.25" vector-effect="non-scaling-stroke" stroke-linecap="round" stroke-linejoin="round"/>
<path transform="translate(99.50,210.90) rotate(0) scale(1.8167,1.7100)" d="M0,10 V0 L6,10 V0" fill="none" stroke="#2a2a2a" stroke-width="1.15" vector-effect="non-scaling-stroke" stroke-linecap="round" stroke-linejoin="round"/>
<path transform="translate(116.70,210.90) rotate(0) scale(1.6429,1.7100)" d="M0,10 L3.5,0 L7,10 M1.05,7 H5.95" fill="none" stroke="#2a2a2a" stroke-width="1.15" vector-effect="non-scaling-stroke" stroke-linecap="round" stroke-linejoin="round"/>
<path transform="translate(143.10,210.90) rotate(0) scale(1.4462,1.7100)" d="M2.7,0 L0,7.7 H6.5 M4.95,4.9 V10" fill="none" stroke="#2a2a2a" stroke-width="1.15" vector-effect="non-scaling-stroke" stroke-linecap="round" stroke-linejoin="round"/>
<path transform="translate(158.70,210.90) rotate(0) scale(1.5636,1.7100)" d="M2.75,4.8 C1.4,4.8 0.45,3.8 0.45,2.4 C0.45,1 1.4,0 2.75,0 C4.1,0 5.05,1 5.05,2.4 C5.05,3.8 4.1,4.8 2.75,4.8 C4.3,4.8 5.5,5.9 5.5,7.4 C5.5,8.9 4.3,10 2.75,10 C1.2,10 0,8.9 0,7.4 C0,5.9 1.2,4.8 2.75,4.8" fill="none" stroke="#2a2a2a" stroke-width="1.15" vector-effect="non-scaling-stroke" stroke-linecap="round" stroke-linejoin="round"/>
<path transform="translate(173.50,210.90) rotate(0) scale(0.9000,1.7100)" d="M1,9.6 L0,11.8" fill="none" stroke="#2a2a2a" stroke-width="1.15" vector-effect="non-scaling-stroke" stroke-linecap="round" stroke-linejoin="round"/>
<path transform="translate(188.60,210.90) rotate(0) scale(1.6333,1.7100)" d="M0,10 V0 L6,10 V0" fill="none" stroke="#2a2a2a" stroke-width="1.15" vector-effect="non-scaling-stroke" stroke-linecap="round" stroke-linejoin="round"/>
<path transform="translate(204.60,210.90) rotate(0) scale(1.6286,1.7100)" d="M0,10 L3.5,0 L7,10 M1.05,7 H5.95" fill="none" stroke="#2a2a2a" stroke-width="1.15" vector-effect="non-scaling-stroke" stroke-linecap="round" stroke-linejoin="round"/>
<path transform="translate(222.70,210.90) rotate(0) scale(1.4923,1.7100)" d="M2.7,0 L0,7.7 H6.5 M4.95,4.9 V10" fill="none" stroke="#2a2a2a" stroke-width="1.15" vector-effect="non-scaling-stroke" stroke-linecap="round" stroke-linejoin="round"/>
<path transform="translate(239.60,210.90) rotate(0) scale(1.4038,1.7100)" d="M5.2,2.7 A2.6,2.7 0 1 0 0,2.7 A2.6,2.7 0 1 0 5.2,2.7 C5.2,5.6 4.3,7.7 1.2,10" fill="none" stroke="#2a2a2a" stroke-width="1.15" vector-effect="non-scaling-stroke" stroke-linecap="round" stroke-linejoin="round"/>
<path transform="translate(124.30,243.20) rotate(0) scale(1.6154,1.7000)" d="M0,0 H5.2 M2.6,0 V10" fill="none" stroke="#2a2a2a" stroke-width="1.15" vector-effect="non-scaling-stroke" stroke-linecap="round" stroke-linejoin="round"/>
<path transform="translate(139.50,243.20) rotate(0) scale(1.6857,1.7000)" d="M0,10 L3.5,0 L7,10 M1.05,7 H5.95" fill="none" stroke="#2a2a2a" stroke-width="1.15" vector-effect="non-scaling-stroke" stroke-linecap="round" stroke-linejoin="round"/>
<path transform="translate(157.40,243.20) rotate(0) scale(1.6400,1.7000)" d="M0,10 V0 H5 M0,4.9 H4.8" fill="none" stroke="#2a2a2a" stroke-width="1.15" vector-effect="non-scaling-stroke" stroke-linecap="round" stroke-linejoin="round"/>
<path transform="translate(171.60,243.20) rotate(0) scale(1.0000,1.7000)" d="M0.5,0 V10" fill="none" stroke="#2a2a2a" stroke-width="1.15" vector-effect="non-scaling-stroke" stroke-linecap="round" stroke-linejoin="round"/>
<path transform="translate(178.40,243.20) rotate(0) scale(0.8000,1.7000)" d="M1,9.6 L0,11.8" fill="none" stroke="#2a2a2a" stroke-width="1.15" vector-effect="non-scaling-stroke" stroke-linecap="round" stroke-linejoin="round"/>
<path transform="translate(194.00,243.20) rotate(0) scale(1.6154,1.7000)" d="M0,0 H5.2 M2.6,0 V10" fill="none" stroke="#2a2a2a" stroke-width="1.15" vector-effect="non-scaling-stroke" stroke-linecap="round" stroke-linejoin="round"/>
<path transform="translate(209.40,243.20) rotate(0) scale(1.5833,1.7000)" d="M0,10 V0 H3.2 C4.8,0 6,1.3 6,2.7 C6,4.1 4.8,5.2 3.2,5.2 H0 M3.3,5.2 L6,10" fill="none" stroke="#2a2a2a" stroke-width="1.15" vector-effect="non-scaling-stroke" stroke-linecap="round" stroke-linejoin="round"/>
<path transform="translate(225.80,243.20) rotate(0) scale(1.0000,1.7000)" d="M0.5,0 V10" fill="none" stroke="#2a2a2a" stroke-width="1.15" vector-effect="non-scaling-stroke" stroke-linecap="round" stroke-linejoin="round"/>
<path transform="translate(97.30,277.20) rotate(0) scale(1.8500,1.7300)" d="M0,10 V0 L6,10 V0" fill="none" stroke="#2a2a2a" stroke-width="1.15" vector-effect="non-scaling-stroke" stroke-linecap="round" stroke-linejoin="round"/>
<path transform="translate(114.30,277.20) rotate(0) scale(1.6714,1.7300)" d="M0,10 L3.5,0 L7,10 M1.05,7 H5.95" fill="none" stroke="#2a2a2a" stroke-width="1.15" vector-effect="non-scaling-stroke" stroke-linecap="round" stroke-linejoin="round"/>
<path transform="translate(140.20,277.20) rotate(0) scale(1.4815,1.7300)" d="M4,0 L0.3,6.1 M0,7.3 A2.7,2.7 0 1 0 5.4,7.3 A2.7,2.7 0 1 0 0,7.3" fill="none" stroke="#2a2a2a" stroke-width="1.15" vector-effect="non-scaling-stroke" stroke-linecap="round" stroke-linejoin="round"/>
<path transform="translate(153.80,277.20) rotate(0) scale(1.6538,1.7300)" d="M5.2,2.7 A2.6,2.7 0 1 0 0,2.7 A2.6,2.7 0 1 0 5.2,2.7 C5.2,5.6 4.3,7.7 1.2,10" fill="none" stroke="#2a2a2a" stroke-width="1.15" vector-effect="non-scaling-stroke" stroke-linecap="round" stroke-linejoin="round"/>
<path transform="translate(176.80,277.20) rotate(0) scale(1.5385,1.7300)" d="M1.3,-1.2 L0,5 L1.3,11.2" fill="none" stroke="#2a2a2a" stroke-width="1.15" vector-effect="non-scaling-stroke" stroke-linecap="round" stroke-linejoin="round"/>
<path transform="translate(184.70,277.20) rotate(0) scale(1.7321,1.7300)" d="M4.85,0.75 C4.2,0.25 3.3,0 2.4,0 C1,0 0.2,1 0.2,2.4 C0.2,3 0.4,3.5 0.9,3.9 L4.9,6.9 C5.4,7.3 5.6,7.7 5.6,8.2 C5.6,9.3 4.5,10 3.1,10 C2,10 1.1,9.5 0.4,8.7" fill="none" stroke="#2a2a2a" stroke-width="1.15" vector-effect="non-scaling-stroke" stroke-linecap="round" stroke-linejoin="round"/>
<path transform="translate(200.70,277.20) rotate(0) scale(1.9464,1.7300)" d="M0,0 V10 H2 C4.3,10 5.6,8.5 5.6,6.5 V3.5 C5.6,1.5 4.3,0 2,0 Z" fill="none" stroke="#2a2a2a" stroke-width="1.15" vector-effect="non-scaling-stroke" stroke-linecap="round" stroke-linejoin="round"/>
<path transform="translate(217.20,277.20) rotate(0) scale(1.6000,1.7300)" d="M4.5,0 L0,1.65 L4.5,3.3 M0.7,5.35 H4.5 M0.7,8.6 H4.5" fill="none" stroke="#2a2a2a" stroke-width="1.15" vector-effect="non-scaling-stroke" stroke-linecap="round" stroke-linejoin="round"/>
<path transform="translate(231.50,277.20) rotate(0) scale(1.4808,1.7300)" d="M0.25,0.1 H3.3 C4.4,0.1 4.95,1 4.95,2.3 C4.95,3.6 4,4.6 2.2,5 C4,5.3 5.2,6.2 5.2,7.6 C5.2,9.1 4.1,10 2.7,10 H0.1" fill="none" stroke="#2a2a2a" stroke-width="1.15" vector-effect="non-scaling-stroke" stroke-linecap="round" stroke-linejoin="round"/>
<path transform="translate(245.50,277.20) rotate(0) scale(1.6739,1.7300)" d="M2.3,0 C3.2,0.6 4.6,3.4 4.6,5 C4.6,6.6 3.2,9.4 2.3,10 C1.4,9.4 0,6.6 0,5 C0,3.4 1.4,0.6 2.3,0 Z" fill="none" stroke="#2a2a2a" stroke-width="1.15" vector-effect="non-scaling-stroke" stroke-linecap="round" stroke-linejoin="round"/>
<path transform="translate(259.90,277.20) rotate(0) scale(1.4615,1.7300)" d="M0,-1.2 L1.3,5 L0,11.2" fill="none" stroke="#2a2a2a" stroke-width="1.15" vector-effect="non-scaling-stroke" stroke-linecap="round" stroke-linejoin="round"/>
<path transform="translate(391.10,211.60) rotate(0) scale(1.6000,1.7600)" d="M0,10 V0 L6,10 V0" fill="none" stroke="#2a2a2a" stroke-width="1.15" vector-effect="non-scaling-stroke" stroke-linecap="round" stroke-linejoin="round"/>
<path transform="translate(407.10,211.60) rotate(0) scale(1.5857,1.7600)" d="M0,10 L3.5,0 L7,10 M1.05,7 H5.95" fill="none" stroke="#2a2a2a" stroke-width="1.15" vector-effect="non-scaling-stroke" stroke-linecap="round" stroke-linejoin="round"/>
<path transform="translate(432.60,211.60) rotate(0) scale(1.7037,1.7600)" d="M4,0 L0.3,6.1 M0,7.3 A2.7,2.7 0 1 0 5.4,7.3 A2.7,2.7 0 1 0 0,7.3" fill="none" stroke="#2a2a2a" stroke-width="1.15" vector-effect="non-scaling-stroke" stroke-linecap="round" stroke-linejoin="round"/>
<path transform="translate(448.10,211.60) rotate(0) scale(1.6154,1.7600)" d="M5.2,2.7 A2.6,2.7 0 1 0 0,2.7 A2.6,2.7 0 1 0 5.2,2.7 C5.2,5.6 4.3,7.7 1.2,10" fill="none" stroke="#2a2a2a" stroke-width="1.15" vector-effect="non-scaling-stroke" stroke-linecap="round" stroke-linejoin="round"/>
<path transform="translate(624.80,211.50) rotate(0) scale(1.6552,1.7500)" d="M5,0 H2.2 C0.8,0 0,0.9 0,2.2 V7.8 C0,9.1 0.8,10 2.2,10 H5.8 V4.8 H3.5" fill="none" stroke="#2a2a2a" stroke-width="1.15" vector-effect="non-scaling-stroke" stroke-linecap="round" stroke-linejoin="round"/>
<path transform="translate(640.90,211.50) rotate(0) scale(1.5769,1.7500)" d="M0,0 H5.2 M2.6,0 V10" fill="none" stroke="#2a2a2a" stroke-width="1.15" vector-effect="non-scaling-stroke" stroke-linecap="round" stroke-linejoin="round"/>
<path transform="translate(656.30,211.50) rotate(0) scale(1.7167,1.7500)" d="M0,10 V0 H3.2 C4.8,0 6,1.3 6,2.7 C6,4.1 4.8,5.2 3.2,5.2 H0 M3.3,5.2 L6,10" fill="none" stroke="#2a2a2a" stroke-width="1.15" vector-effect="non-scaling-stroke" stroke-linecap="round" stroke-linejoin="round"/>
<path transform="translate(672.50,211.50) rotate(0) scale(1.0000,1.7500)" d="M0.5,0 V10" fill="none" stroke="#2a2a2a" stroke-width="1.15" vector-effect="non-scaling-stroke" stroke-linecap="round" stroke-linejoin="round"/>
<path d="M487.80,393.25 L486.51,392.46 L485.28,391.58 L484.09,390.63 L482.95,389.61 L481.86,388.51 L480.82,387.33 L479.84,386.08 L478.92,384.77 L478.05,383.38 L477.24,381.93 L476.48,380.41 L475.79,378.83 L475.16,377.19 L474.58,375.48 L474.07,373.72 L473.63,371.91 L473.24,370.04 L472.92,368.12 L472.66,366.15 L472.47,364.14 L472.34,362.08 L472.28,359.98 L472.28,357.85 L472.34,355.67 L472.47,353.46 L472.66,351.23 L472.92,348.96 L473.24,346.67 L473.63,344.36 L474.07,342.03 L474.58,339.68 L475.16,337.31 L475.79,334.94 L476.48,332.56 L477.24,330.17 L478.05,327.78 L478.92,325.39 L479.84,323.01 L480.82,320.63 L481.86,318.26 L482.95,315.90 L484.09,313.56 L485.28,311.23 L486.51,308.93 L487.80,306.65 L489.13,304.40 L490.51,302.17 L491.93,299.98 L493.38,297.82 L494.88,295.70 L496.42,293.62 L497.99,291.58 L499.59,289.58 L501.22,287.64 L502.89,285.74 L504.58,283.89 L506.29,282.10 L508.03,280.37 L509.79,278.69 L511.57,277.07 L513.37,275.52 L515.18,274.03 L517.00,272.61 L518.84,271.25 L520.68,269.96 L522.52,268.75 L524.37,267.61 L526.23,266.54 L528.08,265.54 L529.92,264.63 L531.76,263.79 L533.60,263.03 L535.42,262.35 L537.23,261.74 L539.03,261.22 L540.81,260.79 L542.57,260.43 L544.31,260.16 L546.02,259.97 L547.71,259.86 L549.38,259.84 L551.01,259.90 L552.61,260.04 L554.18,260.27 L555.72,260.58 L557.22,260.97 L558.67,261.44 L560.09,262.00 L561.47,262.63 L562.80,263.35" stroke="#000" stroke-width="2.3" fill="none" stroke-linejoin="round" stroke-linecap="round"/>
<path d="M562.80,263.35 L625.50,299.55" stroke="#000" stroke-width="2.3" fill="none" stroke-linejoin="round" stroke-linecap="round"/>
<path d="M487.80,393.25 L550.50,429.45" stroke="#000" stroke-width="2.3" fill="none" stroke-linejoin="round" stroke-linecap="round"/>
<path d="M513.51,408.09 L512.22,407.30 L510.98,406.43 L509.79,405.47 L508.65,404.45 L507.56,403.35 L506.53,402.17 L505.55,400.93 L504.62,399.61 L503.75,398.22 L502.94,396.77 L502.19,395.25 L501.50,393.67 L500.86,392.03 L500.29,390.33 L499.78,388.57 L499.33,386.75 L498.95,384.88 L498.63,382.96 L498.37,381.00 L498.18,378.98 L498.05,376.92 L497.98,374.82 L497.98,372.69 L498.05,370.51 L498.18,368.31 L498.37,366.07 L498.63,363.80 L498.95,361.51 L499.33,359.20 L499.78,356.87 L500.29,354.52 L500.86,352.16 L501.50,349.78 L502.19,347.40 L502.94,345.01 L503.75,342.62 L504.62,340.23 L505.55,337.85 L506.53,335.47 L507.56,333.10 L508.65,330.74 L509.79,328.40 L510.98,326.07 L512.22,323.77 L513.51,321.49 L514.84,319.24 L516.21,317.01 L517.63,314.82 L519.09,312.66 L520.59,310.54 L522.12,308.46 L523.69,306.42 L525.30,304.43 L526.93,302.48 L528.59,300.58 L530.29,298.74 L532.00,296.94 L533.74,295.21 L535.50,293.53 L537.28,291.92 L539.08,290.36 L540.89,288.87 L542.71,287.45 L544.54,286.09 L546.38,284.81 L548.23,283.59 L550.08,282.45 L551.93,281.38 L553.78,280.39 L555.63,279.47 L557.47,278.63 L559.30,277.87 L561.13,277.19 L562.94,276.59 L564.73,276.07 L566.51,275.63 L568.27,275.27 L570.01,275.00 L571.73,274.81 L573.42,274.70 L575.08,274.68 L576.72,274.74 L578.32,274.88 L579.89,275.11 L581.43,275.42 L582.92,275.81 L584.38,276.28 L585.80,276.84 L587.18,277.47 L588.51,278.19" stroke="#000" stroke-width="1.9" fill="none" stroke-linejoin="round" stroke-linecap="round"/>
<path d="M525.42,414.97 L524.13,414.18 L522.90,413.30 L521.71,412.35 L520.57,411.33 L519.48,410.23 L518.44,409.05 L517.46,407.80 L516.54,406.49 L515.67,405.10 L514.86,403.65 L514.10,402.13 L513.41,400.55 L512.78,398.91 L512.20,397.20 L511.69,395.44 L511.25,393.63 L510.86,391.76 L510.54,389.84 L510.28,387.87 L510.09,385.86 L509.96,383.80 L509.90,381.70 L509.90,379.57 L509.96,377.39 L510.09,375.18 L510.28,372.95 L510.54,370.68 L510.86,368.39 L511.25,366.08 L511.69,363.75 L512.20,361.40 L512.78,359.03 L513.41,356.66 L514.10,354.28 L514.86,351.89 L515.67,349.50 L516.54,347.11 L517.46,344.73 L518.44,342.35 L519.48,339.98 L520.57,337.62 L521.71,335.28 L522.90,332.95 L524.13,330.65 L525.42,328.37 L526.75,326.12 L528.13,323.89 L529.55,321.70 L531.00,319.54 L532.50,317.42 L534.04,315.34 L535.61,313.30 L537.21,311.30 L538.84,309.36 L540.51,307.46 L542.20,305.61 L543.91,303.82 L545.65,302.09 L547.41,300.41 L549.19,298.79 L550.99,297.24 L552.80,295.75 L554.62,294.33 L556.46,292.97 L558.30,291.68 L560.14,290.47 L561.99,289.33 L563.85,288.26 L565.70,287.26 L567.54,286.35 L569.38,285.51 L571.22,284.75 L573.04,284.07 L574.85,283.46 L576.65,282.94 L578.43,282.51 L580.19,282.15 L581.93,281.88 L583.64,281.69 L585.33,281.58 L587.00,281.56 L588.63,281.62 L590.23,281.76 L591.80,281.99 L593.34,282.30 L594.84,282.69 L596.29,283.16 L597.71,283.72 L599.09,284.35 L600.42,285.07" stroke="#000" stroke-width="1.9" fill="none" stroke-linejoin="round" stroke-linecap="round"/>
<ellipse cx="556.0" cy="286.8" rx="5.4" ry="3.7" transform="rotate(10 556.0 286.8)" fill="none" stroke="#000" stroke-width="1.9"/>
<path d="M625.50,299.55 L628.02,301.22 L630.35,303.19 L632.48,305.47 L634.38,308.03 L636.06,310.87 L637.51,313.97 L638.72,317.32 L639.67,320.89 L640.38,324.68 L640.83,328.66 L641.02,332.82 L640.96,337.13 L640.64,341.57 L640.06,346.13 L639.23,350.77 L638.14,355.49 L636.82,360.24 L635.25,365.02 L633.46,369.79 L631.44,374.54 L629.21,379.24 L626.79,383.87 L624.17,388.40 L621.37,392.82 L618.42,397.10 L615.31,401.22 L612.08,405.16 L608.72,408.91 L605.27,412.43 L601.73,415.73 L598.12,418.77 L594.46,421.55 L590.78,424.05 L587.07,426.26 L583.38,428.17 L579.70,429.77 L576.07,431.06 L572.49,432.01 L568.99,432.64 L565.59,432.94 L562.29,432.90 L559.12,432.53 L556.08,431.83 L553.21,430.80 L550.50,429.45 L547.98,427.78 L545.65,425.81 L543.52,423.53 L541.62,420.97 L539.94,418.13 L538.49,415.03 L537.28,411.68 L536.33,408.11 L535.62,404.32 L535.17,400.34 L534.98,396.18 L535.04,391.87 L535.36,387.43 L535.94,382.87 L536.77,378.23 L537.86,373.51 L539.18,368.76 L540.75,363.98 L542.54,359.21 L544.56,354.46 L546.79,349.76 L549.21,345.13 L551.83,340.60 L554.63,336.18 L557.58,331.90 L560.69,327.78 L563.92,323.84 L567.28,320.09 L570.73,316.57 L574.27,313.27 L577.88,310.23 L581.54,307.45 L585.22,304.95 L588.93,302.74 L592.62,300.83 L596.30,299.23 L599.93,297.94 L603.51,296.99 L607.01,296.36 L610.41,296.06 L613.71,296.10 L616.88,296.47 L619.92,297.17 L622.79,298.20 L625.50,299.55 Z" stroke="#000" stroke-width="2.3" fill="#fff" stroke-linejoin="round" stroke-linecap="round"/>
<path d="M625.55,301.52 L628.02,303.15 L630.29,305.08 L632.37,307.31 L634.23,309.81 L635.87,312.59 L637.29,315.61 L638.47,318.88 L639.40,322.38 L640.09,326.08 L640.53,329.97 L640.72,334.04 L640.66,338.25 L640.34,342.59 L639.78,347.04 L638.96,351.59 L637.91,356.19 L636.61,360.84 L635.08,365.51 L633.33,370.17 L631.36,374.82 L629.18,379.41 L626.81,383.93 L624.25,388.36 L621.52,392.68 L618.63,396.86 L615.59,400.89 L612.43,404.74 L609.15,408.40 L605.77,411.85 L602.31,415.06 L598.79,418.04 L595.22,420.76 L591.61,423.20 L588.00,425.36 L584.38,427.23 L580.79,428.79 L577.24,430.05 L573.75,430.98 L570.33,431.60 L567.00,431.89 L563.77,431.85 L560.67,431.49 L557.71,430.81 L554.90,429.80 L552.25,428.48 L549.78,426.85 L547.51,424.92 L545.43,422.69 L543.57,420.19 L541.93,417.41 L540.51,414.39 L539.33,411.12 L538.40,407.62 L537.71,403.92 L537.27,400.03 L537.08,395.96 L537.14,391.75 L537.46,387.41 L538.02,382.96 L538.84,378.41 L539.89,373.81 L541.19,369.16 L542.72,364.49 L544.47,359.83 L546.44,355.18 L548.62,350.59 L550.99,346.07 L553.55,341.64 L556.28,337.32 L559.17,333.14 L562.21,329.11 L565.37,325.26 L568.65,321.60 L572.03,318.15 L575.49,314.94 L579.01,311.96 L582.58,309.24 L586.19,306.80 L589.80,304.64 L593.42,302.77 L597.01,301.21 L600.56,299.95 L604.05,299.02 L607.47,298.40 L610.80,298.11 L614.03,298.15 L617.13,298.51 L620.09,299.19 L622.90,300.20 L625.55,301.52 Z" stroke="#000" stroke-width="1.3" fill="none" stroke-linejoin="round" stroke-linecap="round"/>
<path d="M618.90,315.90 L620.89,317.22 L622.72,318.77 L624.39,320.56 L625.89,322.58 L627.21,324.81 L628.35,327.25 L629.30,329.88 L630.05,332.69 L630.61,335.67 L630.96,338.81 L631.11,342.08 L631.06,345.47 L630.81,348.96 L630.35,352.55 L629.70,356.20 L628.85,359.91 L627.80,363.65 L626.57,367.41 L625.16,371.16 L623.57,374.90 L621.82,378.60 L619.91,382.24 L617.85,385.80 L615.65,389.28 L613.33,392.65 L610.89,395.89 L608.34,398.99 L605.70,401.93 L602.98,404.71 L600.20,407.30 L597.36,409.69 L594.48,411.88 L591.58,413.85 L588.67,415.59 L585.76,417.09 L582.87,418.35 L580.02,419.36 L577.20,420.11 L574.45,420.61 L571.77,420.84 L569.17,420.81 L566.68,420.52 L564.29,419.97 L562.03,419.16 L559.90,418.10 L557.91,416.78 L556.08,415.23 L554.41,413.44 L552.91,411.42 L551.59,409.19 L550.45,406.75 L549.50,404.12 L548.75,401.31 L548.19,398.33 L547.84,395.19 L547.69,391.92 L547.74,388.53 L547.99,385.04 L548.45,381.45 L549.10,377.80 L549.95,374.09 L551.00,370.35 L552.23,366.59 L553.64,362.84 L555.23,359.10 L556.98,355.40 L558.89,351.76 L560.95,348.20 L563.15,344.72 L565.47,341.35 L567.91,338.11 L570.46,335.01 L573.10,332.07 L575.82,329.29 L578.60,326.70 L581.44,324.31 L584.32,322.12 L587.22,320.15 L590.13,318.41 L593.04,316.91 L595.93,315.65 L598.78,314.64 L601.60,313.89 L604.35,313.39 L607.03,313.16 L609.63,313.19 L612.12,313.48 L614.51,314.03 L616.77,314.84 L618.90,315.90 Z" stroke="#000" stroke-width="2.3" fill="none" stroke-linejoin="round" stroke-linecap="round"/>
<path d="M616.55,320.62 L618.36,321.82 L620.04,323.24 L621.56,324.88 L622.93,326.72 L624.14,328.76 L625.18,330.99 L626.05,333.39 L626.74,335.96 L627.24,338.68 L627.57,341.54 L627.71,344.53 L627.66,347.63 L627.43,350.82 L627.01,354.10 L626.41,357.44 L625.64,360.82 L624.68,364.24 L623.56,367.67 L622.27,371.10 L620.82,374.52 L619.22,377.90 L617.47,381.22 L615.59,384.48 L613.59,387.65 L611.46,390.73 L609.23,393.69 L606.90,396.52 L604.49,399.21 L602.01,401.75 L599.46,404.11 L596.87,406.30 L594.24,408.30 L591.59,410.10 L588.93,411.69 L586.28,413.06 L583.64,414.21 L581.03,415.13 L578.46,415.82 L575.94,416.27 L573.49,416.49 L571.12,416.46 L568.84,416.19 L566.66,415.69 L564.60,414.95 L562.65,413.98 L560.84,412.78 L559.16,411.36 L557.64,409.72 L556.27,407.88 L555.06,405.84 L554.02,403.61 L553.15,401.21 L552.46,398.64 L551.96,395.92 L551.63,393.06 L551.49,390.07 L551.54,386.97 L551.77,383.78 L552.19,380.50 L552.79,377.16 L553.56,373.78 L554.52,370.36 L555.64,366.93 L556.93,363.50 L558.38,360.08 L559.98,356.70 L561.73,353.38 L563.61,350.12 L565.61,346.95 L567.74,343.87 L569.97,340.91 L572.30,338.08 L574.71,335.39 L577.19,332.85 L579.74,330.49 L582.33,328.30 L584.96,326.30 L587.61,324.50 L590.27,322.91 L592.92,321.54 L595.56,320.39 L598.17,319.47 L600.74,318.78 L603.26,318.33 L605.71,318.11 L608.08,318.14 L610.36,318.41 L612.54,318.91 L614.60,319.65 L616.55,320.62 Z" stroke="#000" stroke-width="1.9" fill="none" stroke-linejoin="round" stroke-linecap="round"/>
<path d="M612.80,326.66 L614.35,327.69 L615.78,328.90 L617.08,330.29 L618.25,331.87 L619.28,333.61 L620.17,335.51 L620.91,337.56 L621.49,339.75 L621.93,342.08 L622.20,344.52 L622.32,347.07 L622.28,349.71 L622.08,352.44 L621.73,355.23 L621.22,358.08 L620.55,360.97 L619.74,363.89 L618.78,366.82 L617.68,369.75 L616.44,372.66 L615.08,375.54 L613.59,378.38 L611.98,381.16 L610.27,383.87 L608.46,386.49 L606.55,389.02 L604.57,391.44 L602.51,393.74 L600.39,395.90 L598.22,397.92 L596.01,399.79 L593.76,401.49 L591.50,403.02 L589.23,404.38 L586.97,405.55 L584.71,406.53 L582.48,407.32 L580.29,407.91 L578.14,408.29 L576.05,408.48 L574.03,408.45 L572.08,408.23 L570.22,407.80 L568.46,407.17 L566.80,406.34 L565.25,405.31 L563.82,404.10 L562.52,402.71 L561.35,401.13 L560.32,399.39 L559.43,397.49 L558.69,395.44 L558.11,393.25 L557.67,390.92 L557.40,388.48 L557.28,385.93 L557.32,383.29 L557.52,380.56 L557.87,377.77 L558.38,374.92 L559.05,372.03 L559.86,369.11 L560.82,366.18 L561.92,363.25 L563.16,360.34 L564.52,357.46 L566.01,354.62 L567.62,351.84 L569.33,349.13 L571.14,346.51 L573.05,343.98 L575.03,341.56 L577.09,339.26 L579.21,337.10 L581.38,335.08 L583.59,333.21 L585.84,331.51 L588.10,329.98 L590.37,328.62 L592.63,327.45 L594.89,326.47 L597.12,325.68 L599.31,325.09 L601.46,324.71 L603.55,324.52 L605.57,324.55 L607.52,324.77 L609.38,325.20 L611.14,325.83 L612.80,326.66 Z" stroke="#000" stroke-width="1.9" fill="none" stroke-linejoin="round" stroke-linecap="round"/>
<path d="M607.05,335.26 L608.24,336.05 L609.35,336.98 L610.35,338.06 L611.25,339.27 L612.05,340.62 L612.74,342.08 L613.31,343.67 L613.76,345.36 L614.09,347.15 L614.31,349.04 L614.40,351.00 L614.37,353.04 L614.22,355.15 L613.94,357.30 L613.55,359.50 L613.03,361.73 L612.41,363.98 L611.67,366.25 L610.82,368.51 L609.86,370.75 L608.81,372.98 L607.66,375.17 L606.42,377.31 L605.10,379.41 L603.70,381.43 L602.23,383.38 L600.70,385.25 L599.11,387.02 L597.47,388.69 L595.80,390.25 L594.09,391.69 L592.36,393.00 L590.61,394.19 L588.86,395.23 L587.11,396.14 L585.37,396.90 L583.65,397.50 L581.96,397.96 L580.30,398.25 L578.69,398.39 L577.13,398.38 L575.63,398.20 L574.19,397.87 L572.83,397.38 L571.55,396.74 L570.36,395.95 L569.25,395.02 L568.25,393.94 L567.35,392.73 L566.55,391.38 L565.86,389.92 L565.29,388.33 L564.84,386.64 L564.51,384.85 L564.29,382.96 L564.20,381.00 L564.23,378.96 L564.38,376.85 L564.66,374.70 L565.05,372.50 L565.57,370.27 L566.19,368.02 L566.93,365.75 L567.78,363.49 L568.74,361.25 L569.79,359.02 L570.94,356.83 L572.18,354.69 L573.50,352.59 L574.90,350.57 L576.37,348.62 L577.90,346.75 L579.49,344.98 L581.13,343.31 L582.80,341.75 L584.51,340.31 L586.24,339.00 L587.99,337.81 L589.74,336.77 L591.49,335.86 L593.23,335.10 L594.95,334.50 L596.64,334.04 L598.30,333.75 L599.91,333.61 L601.47,333.62 L602.97,333.80 L604.41,334.13 L605.77,334.62 L607.05,335.26 Z" stroke="#000" stroke-width="2.3" fill="none" stroke-linejoin="round" stroke-linecap="round"/>
</svg>
</body></html>
